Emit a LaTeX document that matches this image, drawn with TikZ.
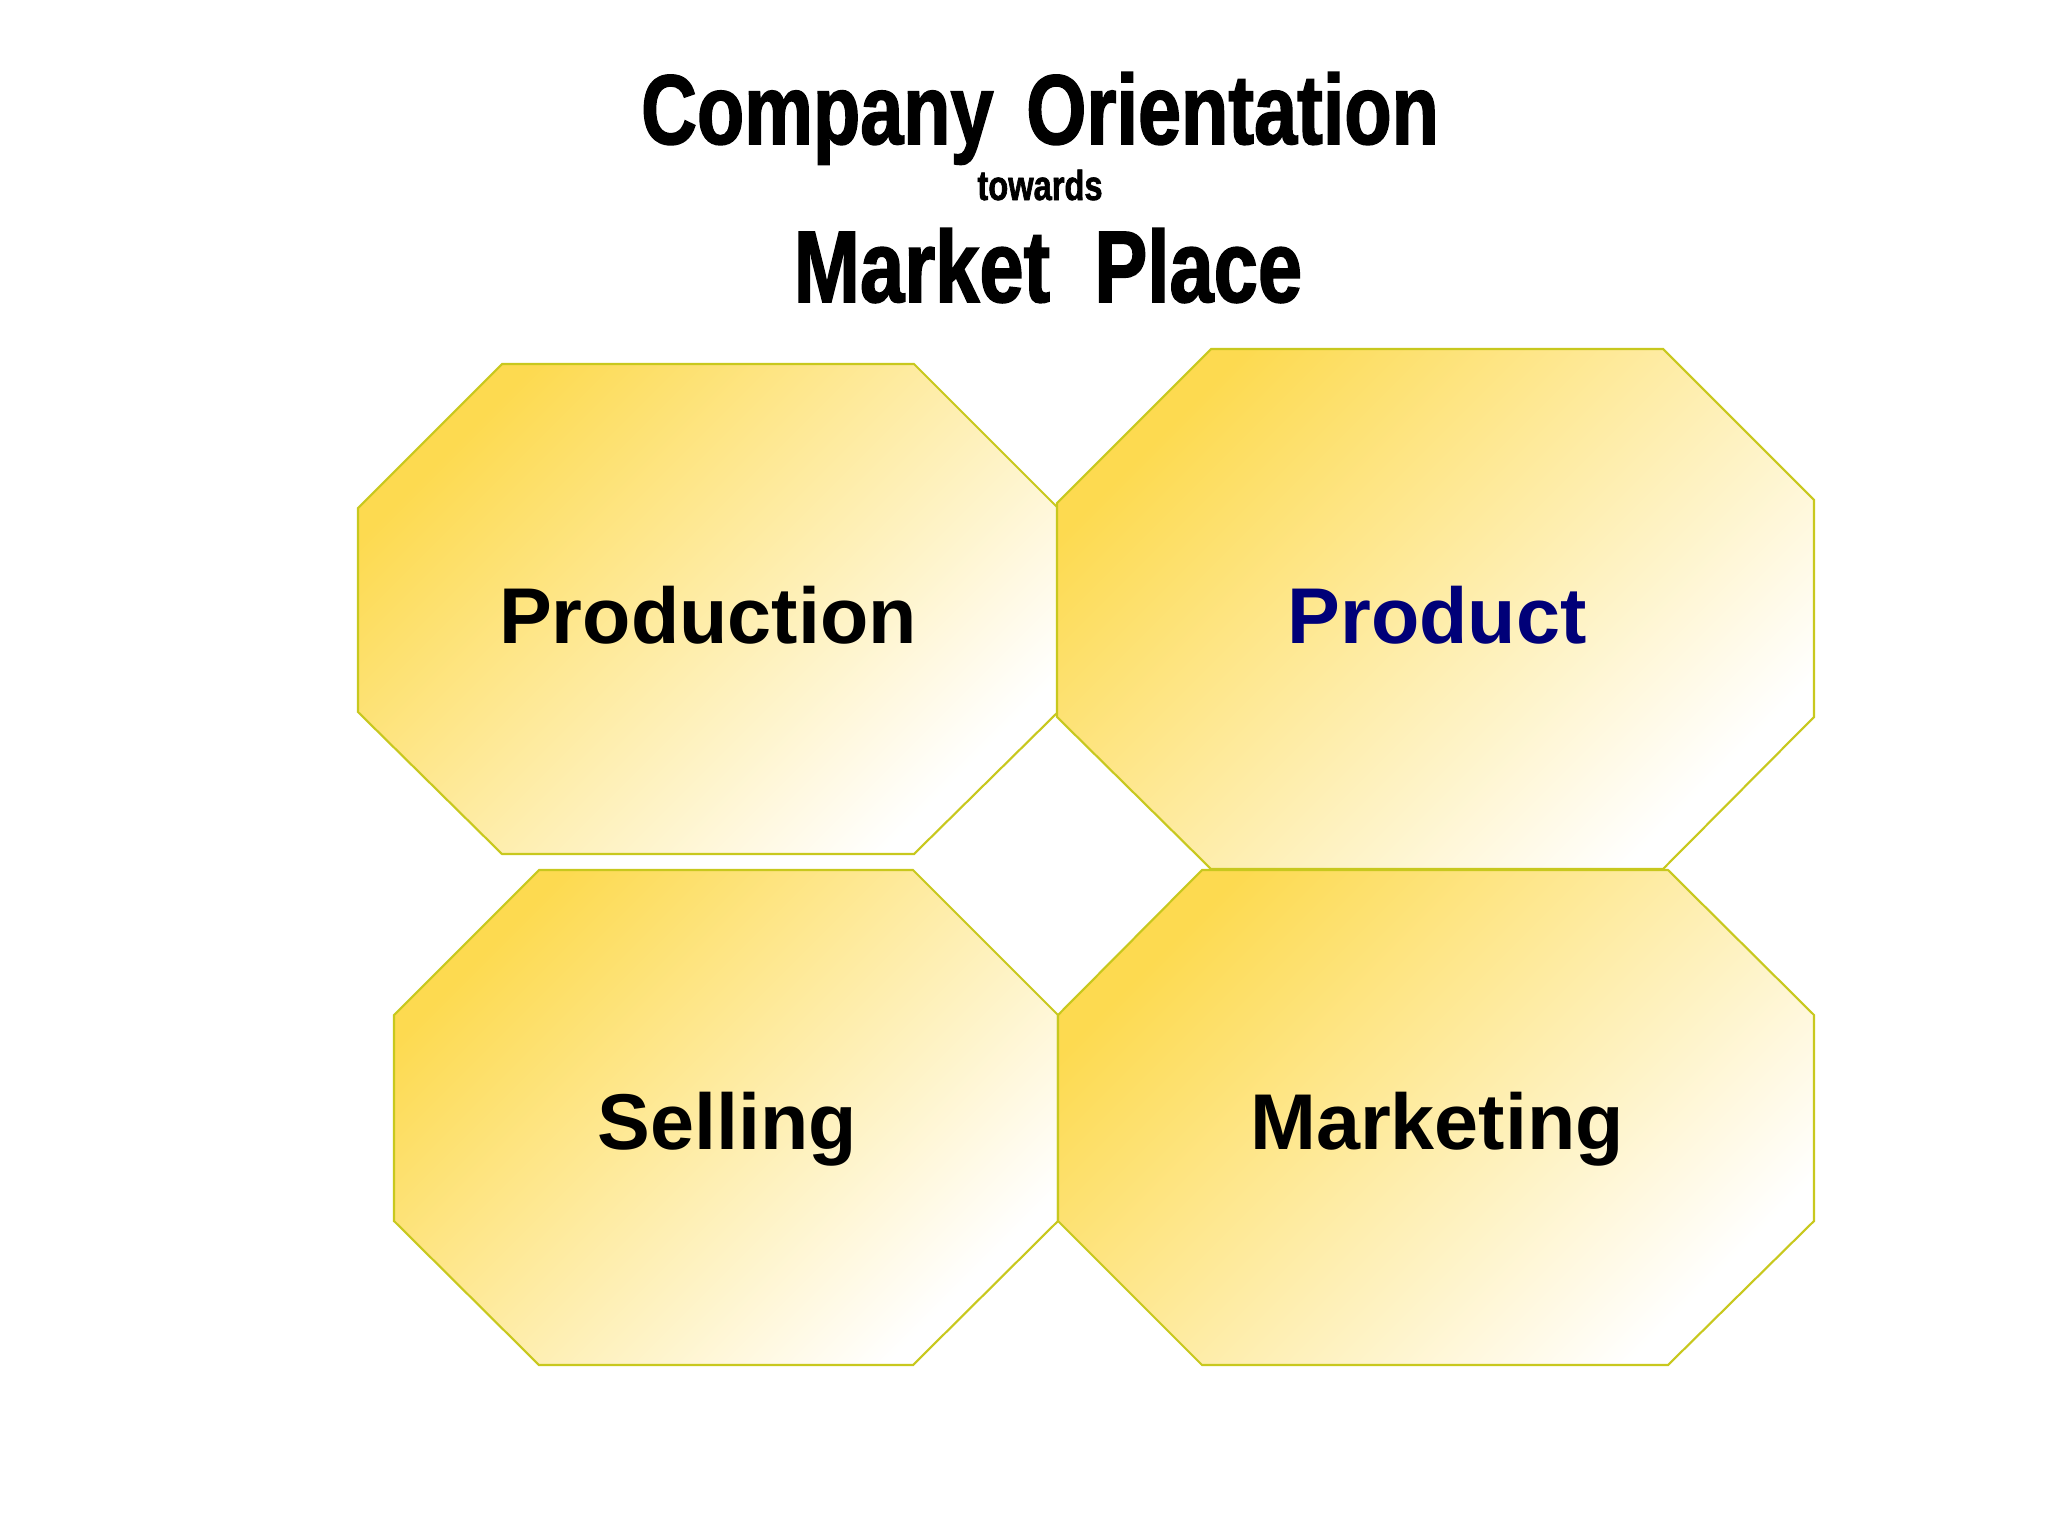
\documentclass[tikz,border=0pt]{standalone}
\usepackage{fontspec}
\setmainfont{Liberation Sans}
\newfontfamily\headfont[FakeStretch=0.78,FakeBold=1.5]{Liberation Sans}
\definecolor{octgold}{RGB}{253,218,80}
\definecolor{octline}{RGB}{200,200,30}
\definecolor{prodnavy}{RGB}{0,0,120}

\begin{document}
\begin{tikzpicture}[x=0.01cm,y=-0.01cm,
octa/.style={draw=octline,line width=0.6pt,top color=octgold,middle color=octgold!45!white,bottom color=white,shading angle=45},
octtext/.style={font={\fontsize{22.5}{27}\selectfont\bfseries},anchor=base},
headtext/.style={font={\headfont\bfseries\fontsize{#1}{#1}\selectfont},anchor=base}
]
\path[use as bounding box,fill=white] (0,0) rectangle (2048,1536);

\node[headtext=28.2] (h1) at (1040,144) {Company\hspace{0.33em}Orientation};
\node[headtext=11.9] (h2) at (1040,200) {towards};
\node[headtext=29] (h3) at (1048,302) {Market\ \ Place};

\path[octa] (502,364) -- (914,364) -- (1058,508) -- (1058,712) -- (914,854) -- (502,854) -- (358,712) -- (358,508) -- cycle;
\path[octa] (1211,349) -- (1663,349) -- (1814,500) -- (1814,717) -- (1663,869) -- (1211,869) -- (1057,717) -- (1057,503) -- cycle;
\path[octa] (539,870) -- (913,870) -- (1058,1015) -- (1058,1221) -- (913,1365) -- (539,1365) -- (394,1221) -- (394,1015) -- cycle;
\path[octa] (1202,870) -- (1668,870) -- (1814,1015) -- (1814,1221) -- (1668,1365) -- (1202,1365) -- (1058,1221) -- (1058,1015) -- cycle;

\node[octtext] (production) at (708,643) {Production};
\node[octtext,text=prodnavy] (product) at (1437,643) {Product};
\node[octtext] (selling) at (727,1149) {Selling};
\node[octtext] (marketing) at (1437,1149) {Marketing};
\end{tikzpicture}
\end{document}
